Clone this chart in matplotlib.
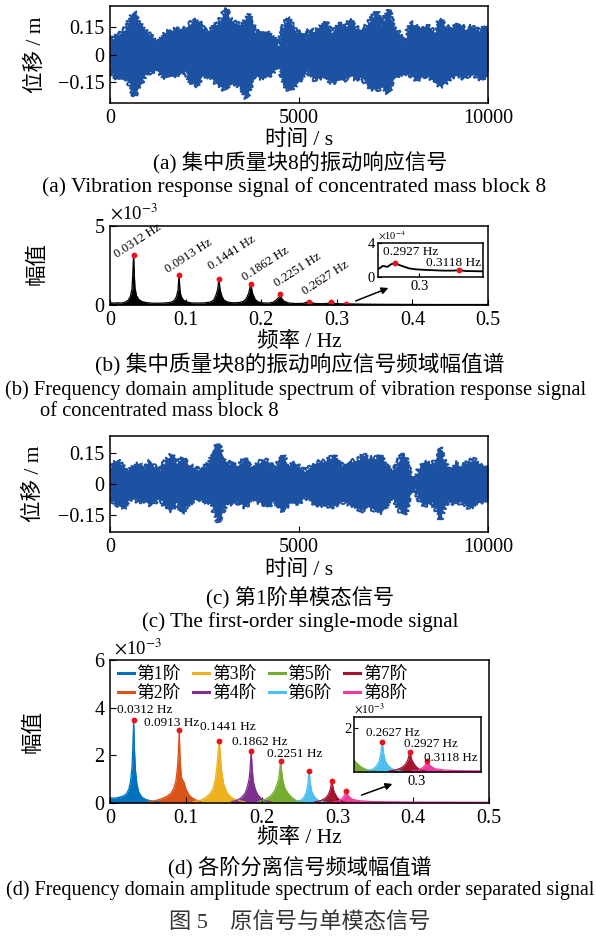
import numpy as np
import matplotlib
matplotlib.use('Agg')
import matplotlib.pyplot as plt

plt.rcParams['font.family'] = ['Liberation Serif', 'Noto Sans CJK SC']
plt.rcParams['mathtext.fontset'] = 'stix'
plt.rcParams['axes.unicode_minus'] = True

# (a) 原信号的包络 (时间 s, 位移 m)
t_a = [0, 44, 220, 397, 529, 644, 750, 926, 1102, 1279, 1367, 1455, 1631, 1808, 1984,
       2161, 2293, 2425, 2513, 2690, 2866, 2998, 3060, 3175, 3307, 3483, 3616, 3704,
       3836, 4012, 4189, 4321, 4453, 4585, 4718, 4806, 4938, 5071, 5159, 5291, 5423,
       5511, 5688, 5864, 6041, 6217, 6349, 6481, 6658, 6790, 6966, 7055, 7187, 7363,
       7496, 7628, 7804, 7937, 8113, 8289, 8422, 8598, 8730, 8862, 9039, 9215, 9392,
       9568, 9744, 9921, 10000]
up_a = [0.080, 0.080, 0.107, 0.134, 0.188, 0.227, 0.170, 0.125, 0.098, 0.063, 0.089,
        0.116, 0.125, 0.138, 0.143, 0.170, 0.188, 0.152, 0.125, 0.134, 0.170, 0.214,
        0.250, 0.188, 0.170, 0.152, 0.188, 0.214, 0.116, 0.125, 0.116, 0.098, 0.036,
        0.152, 0.197, 0.161, 0.116, 0.116, 0.080, 0.134, 0.116, 0.143, 0.179, 0.116,
        0.170, 0.134, 0.188, 0.143, 0.134, 0.152, 0.206, 0.232, 0.152, 0.241, 0.152,
        0.116, 0.063, 0.170, 0.152, 0.134, 0.152, 0.116, 0.188, 0.152, 0.134, 0.170,
        0.134, 0.152, 0.125, 0.152, 0.116]
low_a = [-0.089, -0.098, -0.134, -0.116, -0.161, -0.223, -0.179, -0.107, -0.089, -0.080,
         -0.107, -0.125, -0.116, -0.107, -0.089, -0.152, -0.166, -0.113, -0.116, -0.130,
         -0.161, -0.184, -0.173, -0.161, -0.152, -0.179, -0.232, -0.173, -0.113, -0.125,
         -0.116, -0.089, -0.045, -0.152, -0.188, -0.191, -0.152, -0.125, -0.063, -0.107,
         -0.134, -0.125, -0.116, -0.148, -0.138, -0.134, -0.102, -0.134, -0.116, -0.161,
         -0.184, -0.188, -0.173, -0.206, -0.134, -0.107, -0.095, -0.107, -0.134, -0.116,
         -0.107, -0.152, -0.170, -0.152, -0.116, -0.113, -0.125, -0.095, -0.125, -0.134,
         -0.089]

# (c) 第1阶单模态信号的包络
t_c = [0, 88, 220, 353, 485, 617, 750, 882, 1058, 1190, 1323, 1455, 1631, 1764, 1896,
       2028, 2161, 2337, 2513, 2646, 2778, 2866, 2954, 3086, 3219, 3395, 3571, 3748,
       3924, 4056, 4189, 4321, 4453, 4585, 4718, 4850, 4982, 5159, 5291, 5423, 5556,
       5688, 5820, 5952, 6085, 6217, 6393, 6570, 6702, 6834, 7011, 7187, 7319, 7451,
       7584, 7716, 7804, 7937, 8069, 8201, 8333, 8510, 8642, 8730, 8818, 8951, 9127,
       9303, 9480, 9656, 9789, 9921, 10000]
up_c = [0.076, 0.100, 0.108, 0.084, 0.060, 0.084, 0.100, 0.068, 0.116, 0.076, 0.060,
        0.108, 0.140, 0.084, 0.132, 0.100, 0.084, 0.068, 0.084, 0.100, 0.173, 0.189,
        0.148, 0.084, 0.108, 0.084, 0.124, 0.068, 0.100, 0.116, 0.108, 0.076, 0.100,
        0.132, 0.084, 0.108, 0.084, 0.060, 0.084, 0.100, 0.108, 0.108, 0.124, 0.132,
        0.084, 0.100, 0.108, 0.116, 0.140, 0.124, 0.124, 0.132, 0.084, 0.060, 0.084,
        0.148, 0.132, 0.052, 0.019, 0.084, 0.108, 0.084, 0.132, 0.173, 0.116, 0.068,
        0.100, 0.084, 0.108, 0.116, 0.084, 0.092, 0.084]
low_c = [-0.069, -0.085, -0.102, -0.118, -0.077, -0.061, -0.085, -0.077, -0.102, -0.085,
         -0.061, -0.110, -0.126, -0.085, -0.142, -0.102, -0.085, -0.061, -0.094, -0.085,
         -0.142, -0.182, -0.142, -0.085, -0.094, -0.085, -0.110, -0.077, -0.085, -0.094,
         -0.110, -0.077, -0.102, -0.134, -0.094, -0.085, -0.094, -0.061, -0.077, -0.094,
         -0.102, -0.094, -0.110, -0.102, -0.085, -0.085, -0.102, -0.118, -0.126, -0.110,
         -0.126, -0.134, -0.102, -0.061, -0.094, -0.142, -0.150, -0.053, -0.021, -0.085,
         -0.102, -0.085, -0.126, -0.174, -0.118, -0.077, -0.094, -0.085, -0.110, -0.102,
         -0.085, -0.085, -0.085]

# (b) 频域幅值谱 (Hz, ×10^-3)
f_b = [0.000, 0.005, 0.010, 0.015, 0.020, 0.024, 0.027, 0.029, 0.030, 0.0312, 0.0322,
       0.033, 0.035, 0.038, 0.042, 0.048, 0.055, 0.062, 0.070, 0.078, 0.083, 0.086,
       0.088, 0.090, 0.0913, 0.0925, 0.094, 0.097, 0.101, 0.108, 0.116, 0.124, 0.132,
       0.137, 0.140, 0.1425, 0.1441, 0.1455, 0.148, 0.151, 0.156, 0.163, 0.170, 0.176,
       0.180, 0.1835, 0.1862, 0.1885, 0.192, 0.196, 0.203, 0.210, 0.216, 0.220, 0.2235,
       0.2251, 0.2265, 0.230, 0.236, 0.245, 0.255, 0.2627, 0.270, 0.280, 0.2880, 0.2890,
       0.2905, 0.2915, 0.2927, 0.294, 0.2955, 0.297, 0.299, 0.301, 0.304, 0.307, 0.310,
       0.3118, 0.314, 0.317, 0.320, 0.340, 0.370, 0.400, 0.440, 0.500]
a_b = [0.15, 0.12, 0.14, 0.12, 0.18, 0.30, 0.55, 1.00, 1.80, 3.18, 1.90, 1.10, 0.60,
       0.35, 0.22, 0.15, 0.12, 0.11, 0.12, 0.15, 0.22, 0.35, 0.55, 0.95, 1.90, 0.95,
       0.55, 0.32, 0.20, 0.13, 0.12, 0.13, 0.18, 0.30, 0.60, 1.00, 1.65, 1.00, 0.55,
       0.30, 0.18, 0.14, 0.15, 0.22, 0.38, 0.75, 1.36, 0.75, 0.35, 0.20, 0.13, 0.12,
       0.18, 0.32, 0.50, 0.68, 0.45, 0.25, 0.13, 0.09, 0.10, 0.21, 0.10, 0.08, 0.10,
       0.13, 0.12, 0.15, 0.165, 0.14, 0.12, 0.10, 0.09, 0.085, 0.08, 0.075, 0.075,
       0.08, 0.07, 0.068, 0.065, 0.05, 0.04, 0.035, 0.03, 0.03]
peak_f = [0.0312, 0.0913, 0.1441, 0.1862, 0.2251, 0.2627, 0.2927, 0.3118]
peak_b = [3.18, 1.90, 1.65, 1.36, 0.68, 0.21, 0.165, 0.08]

# (d) 各阶分离信号频谱 (Hz, ×10^-3)
mode_names = ['第1阶', '第2阶', '第3阶', '第4阶', '第5阶', '第6阶', '第7阶', '第8阶']
mode_colors = ['#0072BD', '#D95319', '#EDB120', '#7E2F8E', '#77AC30', '#4DBEEE',
               '#A2142F', '#EE3C9C']
f_m1 = [0.000, 0.006, 0.012, 0.018, 0.022, 0.025, 0.027, 0.029, 0.0302, 0.0312, 0.0322,
        0.0335, 0.0355, 0.038, 0.042, 0.047, 0.055, 0.065]
a_m1 = [0.22, 0.20, 0.24, 0.30, 0.40, 0.60, 0.90, 1.50, 2.40, 3.48, 2.30, 1.40, 0.80,
        0.45, 0.25, 0.15, 0.08, 0.04]
f_m2 = [0.050, 0.060, 0.068, 0.075, 0.080, 0.084, 0.087, 0.089, 0.0903, 0.0913, 0.0923,
        0.094, 0.096, 0.098, 0.100, 0.104, 0.108, 0.114, 0.120]
a_m2 = [0.05, 0.10, 0.18, 0.28, 0.40, 0.60, 0.95, 1.50, 2.20, 3.06, 2.00, 1.10, 0.95,
        0.85, 0.60, 0.35, 0.22, 0.12, 0.05]
f_m3 = [0.110, 0.120, 0.127, 0.132, 0.136, 0.139, 0.141, 0.1428, 0.1441, 0.1454, 0.147,
        0.150, 0.154, 0.158, 0.163, 0.170, 0.178]
a_m3 = [0.05, 0.12, 0.25, 0.40, 0.60, 1.00, 1.50, 2.20, 2.61, 2.10, 1.40, 0.80, 0.45,
        0.30, 0.18, 0.10, 0.05]
f_m4 = [0.160, 0.168, 0.174, 0.178, 0.181, 0.1835, 0.185, 0.1862, 0.1875, 0.189, 0.192,
        0.195, 0.199, 0.204, 0.212]
a_m4 = [0.05, 0.12, 0.25, 0.40, 0.65, 1.00, 1.50, 2.18, 1.50, 0.90, 0.55, 0.35, 0.20,
        0.10, 0.05]
f_m5 = [0.195, 0.205, 0.212, 0.217, 0.220, 0.2225, 0.224, 0.2251, 0.2262, 0.228, 0.231,
        0.235, 0.240, 0.246, 0.255]
a_m5 = [0.05, 0.15, 0.30, 0.50, 0.75, 1.00, 1.40, 1.78, 1.40, 0.95, 0.60, 0.40, 0.22,
        0.10, 0.04]
f_m6 = [0.245, 0.252, 0.256, 0.259, 0.261, 0.2627, 0.2642, 0.266, 0.269, 0.273, 0.278,
        0.285]
a_m6 = [0.04, 0.12, 0.25, 0.45, 0.80, 1.36, 0.85, 0.50, 0.30, 0.15, 0.07, 0.03]
f_m7 = [0.270, 0.278, 0.284, 0.288, 0.2905, 0.2927, 0.2948, 0.297, 0.300, 0.304, 0.310]
a_m7 = [0.04, 0.10, 0.20, 0.35, 0.55, 0.92, 0.55, 0.38, 0.22, 0.10, 0.04]
f_m8 = [0.295, 0.302, 0.306, 0.309, 0.3105, 0.3118, 0.313, 0.316, 0.320, 0.330, 0.345,
        0.370, 0.400, 0.450, 0.500]
a_m8 = [0.04, 0.10, 0.18, 0.30, 0.40, 0.50, 0.38, 0.25, 0.15, 0.09, 0.06, 0.05, 0.04,
        0.035, 0.03]
peak_d = [3.48, 3.06, 2.61, 2.18, 1.78, 1.36, 0.92, 0.50]

modes_f = [f_m1, f_m2, f_m3, f_m4, f_m5, f_m6, f_m7, f_m8]
modes_a = [a_m1, a_m2, a_m3, a_m4, a_m5, a_m6, a_m7, a_m8]

blue = '#1D52A3'
red = '#E8141B'
W, H = 596, 936
FS = 14.5   # 刻度
LS = 15.5   # 坐标轴标题


def box(l, t, r, b):
    return [l / W, 1 - b / H, (r - l) / W, (b - t) / H]


def style(ax, fs=FS):
    ax.tick_params(direction='in', length=4, width=0.8, labelsize=fs, pad=4,
                   top=False, right=False)
    for s in ax.spines.values():
        s.set_linewidth(1.1)


def ftext(x, y, s, fs=15.3, ha='center', **kw):
    fig.text(x / W, 1 - y / H, s, fontsize=fs, ha=ha, va='center', **kw)


def signal(ax, t, lo, up):
    # 包络填充, 边缘加毛刺效果
    ax.fill_between(t, lo, up, color=blue, lw=0)
    p = ax.fill_between(t, lo, up, facecolor='none', edgecolor=blue, lw=1.4)
    p.set_sketch_params(scale=2.6, length=1.5, randomness=8)


fig = plt.figure(figsize=(W / 100, H / 100), dpi=100)

# ---------- (a)
ax = fig.add_axes(box(110, 6, 488, 103))
signal(ax, t_a, low_a, up_a)
ax.set_xlim(0, 10000)
ax.set_ylim(-0.26, 0.26)
ax.set_xticks([0, 5000, 10000])
ax.set_yticks([-0.15, 0, 0.15])
ax.set_yticklabels(['\u22120.15', '0', '0.15'])
style(ax)
ax.set_ylabel('位移 / m', fontsize=LS)
ax.yaxis.set_label_coords(-0.17, 0.5)
ftext(299, 140, '时间 / s', fs=LS)
ftext(300, 163, '(a) 集中质量块8的振动响应信号')
ftext(294, 187, '(a) Vibration response signal of concentrated mass block 8', fs=15.5)

# ---------- (b)
ax = fig.add_axes(box(110, 226, 488, 305))
a_b_s = np.array(a_b) * 1e-3
ax.fill_between(f_b, 0, a_b_s, color='k', lw=0)
ax.plot(f_b, a_b_s, color='k', lw=0.9)
ax.plot(peak_f, np.array(peak_b) * 1e-3, 'o', color=red, ms=4.2, mec='none')
b_off = [(-15, -6), (-9, -1), (-6, 6), (-4, 0), (-2, 5), (-2, 4)]
for i in range(6):
    ax.annotate(f'{peak_f[i]:.4f} Hz', (peak_f[i], peak_b[i] * 1e-3),
                xytext=b_off[i], textcoords='offset pixels', fontsize=9.2,
                rotation=33, rotation_mode='anchor', ha='left', va='bottom')
ax.set_xlim(0, 0.5)
ax.set_ylim(0, 5e-3)
ax.set_xticks([0, 0.1, 0.2, 0.3, 0.4, 0.5])
ax.set_xticklabels(['0', '0.1', '0.2', '0.3', '0.4', '0.5'])
ax.set_yticks([0, 5e-3])
ax.set_yticklabels(['0', '5'])
style(ax)
ax.text(0.0, 1.03, r'$\times$10$^{-3}$', transform=ax.transAxes, fontsize=13.5,
        ha='left', va='bottom')
ax.set_ylabel('幅值', fontsize=LS)
ax.yaxis.set_label_coords(-0.166, 0.52)

ins = fig.add_axes(box(378, 243, 483, 277))
ins.plot(f_b, a_b_s, color='k', lw=1.3)
ins.plot(peak_f[6:], np.array(peak_b[6:]) * 1e-3, 'o', color=red, ms=4.2, mec='none')
ins.set_xlim(0.2876, 0.319)
ins.set_ylim(0, 4e-4)
ins.set_xticks([0.3])
ins.set_xticklabels(['0.3'])
ins.set_yticks([0, 4e-4])
ins.set_yticklabels(['0', '4'])
style(ins, fs=10.5)
ins.tick_params(length=3, pad=2)
ins.text(0.0, 1.02, r'$\times$10$^{-4}$', transform=ins.transAxes, fontsize=7.5,
         ha='left', va='bottom')
ins.annotate('0.2927 Hz', (peak_f[6], peak_b[6] * 1e-3), xytext=(16, 11),
             textcoords='offset pixels', fontsize=9.5, ha='center', va='center')
ins.annotate('0.3118 Hz', (peak_f[7], peak_b[7] * 1e-3), xytext=(-5, 7),
             textcoords='offset pixels', fontsize=9.5, ha='center', va='center')
fig.add_artist(matplotlib.patches.FancyArrowPatch(
    (353 / W, 1 - 302 / H), (391 / W, 1 - 287 / H), transform=fig.transFigure,
    arrowstyle='-|>', mutation_scale=10, color='k', lw=1.1))

ftext(299, 342, '频率 / Hz', fs=LS)
ftext(300, 365, '(b) 集中质量块8的振动响应信号频域幅值谱', fs=15.6)
ftext(296, 390, '(b) Frequency domain amplitude spectrum of vibration response signal',
      fs=14.75)
ftext(40, 412, 'of concentrated mass block 8', ha='left', fs=14.75)

# ---------- (c)
ax = fig.add_axes(box(110, 436, 488, 532))
signal(ax, t_c, low_c, up_c)
ax.set_xlim(0, 10000)
ax.set_ylim(-0.232, 0.232)
ax.set_xticks([0, 5000, 10000])
ax.set_yticks([-0.15, 0, 0.15])
ax.set_yticklabels(['\u22120.15', '0', '0.15'])
style(ax)
ax.set_ylabel('位移 / m', fontsize=LS)
ax.yaxis.set_label_coords(-0.175, 0.5)
ftext(299, 570, '时间 / s', fs=LS)
ftext(300, 598, '(c) 第1阶单模态信号')
ftext(300, 622, '(c) The first-order single-mode signal', fs=15.1)

# ---------- (d)
ax = fig.add_axes(box(110, 660, 489, 803))
ins = fig.add_axes(box(354, 717, 481, 772))
for a_ in (ax, ins):
    for i in range(8):
        fa = np.array(modes_a[i]) * 1e-3
        a_.fill_between(modes_f[i], 0, fa, color=mode_colors[i], lw=0)
        a_.plot(modes_f[i], fa, color=mode_colors[i], lw=0.9)
    a_.plot(peak_f, np.array(peak_d) * 1e-3, 'o', color=red, ms=4.2, mec='none')
for i in range(8):
    ax.plot([], [], color=mode_colors[i], lw=2.2, label=mode_names[i])

d_off = [(11, 10), (-8, 7), (9, 14), (9, 9), (14, 7)]
for i in range(5):
    ax.annotate(f'{peak_f[i]:.4f} Hz', (peak_f[i], peak_d[i] * 1e-3),
                xytext=d_off[i], textcoords='offset pixels', fontsize=9.5,
                ha='center', va='center')
ax.set_xlim(0, 0.5)
ax.set_ylim(0, 6e-3)
ax.set_xticks([0, 0.1, 0.2, 0.3, 0.4, 0.5])
ax.set_xticklabels(['0', '0.1', '0.2', '0.3', '0.4', '0.5'])
ax.set_yticks([0, 2e-3, 4e-3, 6e-3])
ax.set_yticklabels(['0', '2', '4', '6'])
style(ax)
ax.text(0.01, 1.01, r'$\times$10$^{-3}$', transform=ax.transAxes, fontsize=13.5,
        ha='left', va='bottom')
ax.set_ylabel('幅值', fontsize=LS)
ax.yaxis.set_label_coords(-0.175, 0.5)
ax.legend(ncol=4, loc='upper left', bbox_to_anchor=(0.02, 0.955), frameon=False,
          fontsize=12.8, handlelength=0.9, handletextpad=0.15, columnspacing=0.7,
          labelspacing=0.12, borderaxespad=0, borderpad=0)

ins.set_xlim(0.232, 0.37)
ins.set_ylim(0, 2.5e-3)
ins.set_xticks([0.3])
ins.set_xticklabels(['0.3'])
ins.set_yticks([2e-3])
ins.set_yticklabels(['2'])
style(ins, fs=10.5)
ins.tick_params(length=3, pad=2)
ins.text(0.0, 1.03, r'$\times$10$^{-3}$', transform=ins.transAxes, fontsize=8.5,
         ha='left', va='bottom')
i_off = [(11, 9), (21, 8), (23, 3)]
for k, i in enumerate([5, 6, 7]):
    ins.annotate(f'{peak_f[i]:.4f} Hz', (peak_f[i], peak_d[i] * 1e-3),
                 xytext=i_off[k], textcoords='offset pixels', fontsize=9.3,
                 ha='center', va='center')
fig.add_artist(matplotlib.patches.FancyArrowPatch(
    (359 / W, 1 - 796 / H), (395 / W, 1 - 783 / H), transform=fig.transFigure,
    arrowstyle='-|>', mutation_scale=10, color='k', lw=1.1))

ftext(299, 838, '频率 / Hz', fs=LS)
ftext(300, 867, '(d) 各阶分离信号频域幅值谱')
ftext(300, 890, '(d) Frequency domain amplitude spectrum of each order separated signal',
      fs=14.5)
ftext(300, 923, '图 5\u3000原信号与单模态信号', fs=16, color='#333333')

fig.savefig('out.png', dpi=100)
